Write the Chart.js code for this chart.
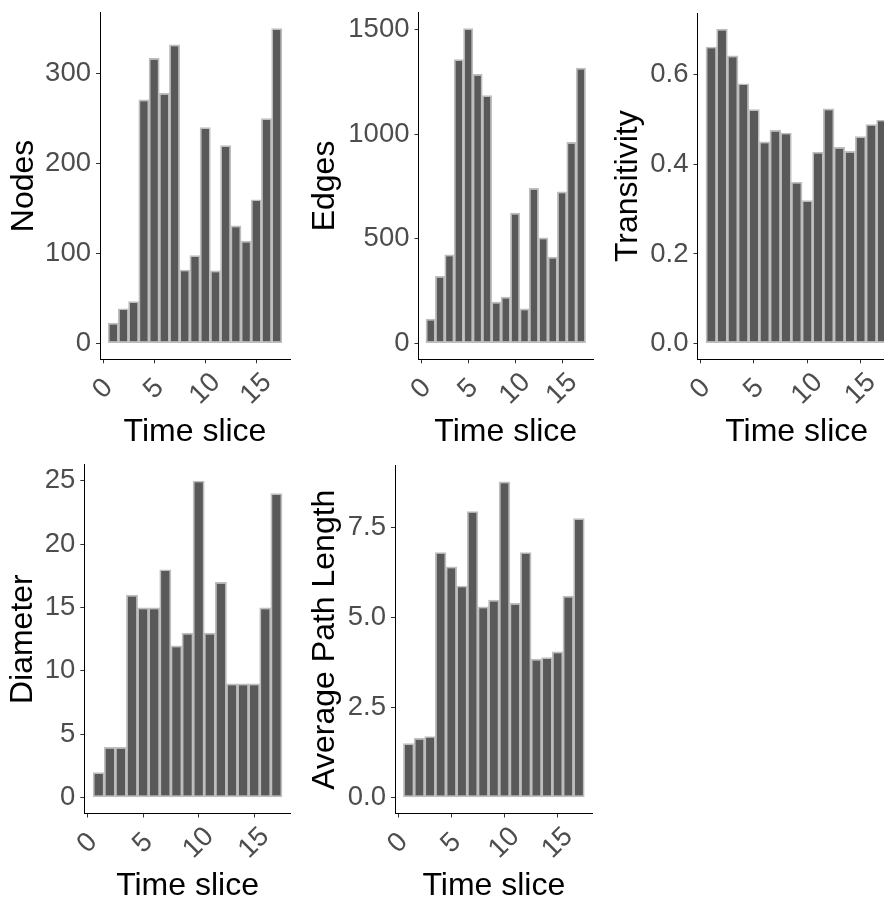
<!DOCTYPE html>
<html>
<head>
<meta charset="utf-8">
<script src="https://cdn.jsdelivr.net/npm/chart.js@4.4.0/dist/chart.umd.min.js"></script>
<style>
  html, body { margin: 0; padding: 0; background: #fff; width: 884px; height: 898px; overflow: hidden; position: relative; }
  canvas { position: absolute; }
</style>
</head>
<body>
<canvas id="nodesChart"></canvas>
<canvas id="edgesChart"></canvas>
<canvas id="transChart"></canvas>
<canvas id="diamChart"></canvas>
<canvas id="aplChart"></canvas>
<script>
/* ── Data ── */
const slices = [1, 2, 3, 4, 5, 6, 7, 8, 9, 10, 11, 12, 13, 14, 15, 16, 17];

const nodes = [23, 39, 47, 271, 317, 278, 332, 82, 98, 240, 81, 220, 131, 114, 160, 250, 350];
const edges = [118, 322, 425, 1357, 1505, 1287, 1185, 199, 223, 624, 167, 743, 506, 414, 726, 962, 1317];
const transitivity = [0.663, 0.703, 0.643, 0.581, 0.523, 0.451, 0.477, 0.471, 0.361, 0.320, 0.428, 0.525, 0.439, 0.430, 0.463, 0.490, 0.500];
const diameter = [2, 4, 4, 16, 15, 15, 18, 12, 13, 25, 13, 17, 9, 9, 9, 15, 24];
const avgPath = [1.51, 1.66, 1.71, 6.82, 6.42, 5.89, 7.96, 5.31, 5.50, 8.78, 5.41, 6.82, 3.86, 3.90, 4.06, 5.61, 7.76];

const xTicks = [0, 5, 10, 15];
const xTickLabels = ["0", "5", "10", "15"];

const nodeTicks = [0, 100, 200, 300];
const nodeTickLabels = ["0", "100", "200", "300"];
const edgeTicks = [0, 500, 1000, 1500];
const edgeTickLabels = ["0", "500", "1000", "1500"];
const transTicks = [0, 0.2, 0.4, 0.6];
const transTickLabels = ["0.0", "0.2", "0.4", "0.6"];
const diamTicks = [0, 5, 10, 15, 20, 25];
const diamTickLabels = ["0", "5", "10", "15", "20", "25"];
const aplTicks = [0, 2.5, 5, 7.5];
const aplTickLabels = ["0.0", "2.5", "5.0", "7.5"];

/* ── Panel layout (canvas box + plot area, in page pixels) ── */
const panels = [
  { id: "nodesChart", title: "Nodes", values: nodes, ticks: nodeTicks, labels: nodeTickLabels,
    left: 0, top: 0, width: 300, height: 450, plotLeft: 100, plotRight: 290, plotTop: 12.5, plotBottom: 359.3, titlePad: 7.9 },
  { id: "edgesChart", title: "Edges", values: edges, ticks: edgeTicks, labels: edgeTickLabels,
    left: 300, top: 0, width: 300, height: 450, plotLeft: 418.5, plotRight: 593, plotTop: 12.6, plotBottom: 359.3, titlePad: 9 },
  { id: "transChart", title: "Transitivity", values: transitivity, ticks: transTicks, labels: transTickLabels,
    left: 600, top: 0, width: 300, height: 450, plotLeft: 697.5, plotRight: 895.8, plotTop: 13, plotBottom: 359.3, titlePad: 12.6 },
  { id: "diamChart", title: "Diameter", values: diameter, ticks: diamTicks, labels: diamTickLabels,
    left: 0, top: 450, width: 300, height: 454, plotLeft: 84.3, plotRight: 290.8, plotTop: 464.8, plotBottom: 813.5, titlePad: 7.6 },
  { id: "aplChart", title: "Average Path Length", values: avgPath, ticks: aplTicks, labels: aplTickLabels,
    left: 300, top: 450, width: 300, height: 454, plotLeft: 395, plotRight: 592.7, plotTop: 465.8, plotBottom: 813.5, titlePad: 9 }
];

const FONT = "'Liberation Sans', Arial, Helvetica, sans-serif";
const TICK_SIZE = 27.5;
const TITLE_SIZE = 32;
/* half a digit of trailing space so every rotated label centres on its tick */
const padLabel = s => (s.length === 1 ? s + " " : s);
const digitShift = 0.556 * TICK_SIZE * Math.SQRT1_2;

function makeChart(p) {
  const canvas = document.getElementById(p.id);
  canvas.width = p.width;
  canvas.height = p.height;
  canvas.style.left = p.left + "px";
  canvas.style.top = p.top + "px";

  const yMax = Math.max(...p.values) * 1.05;
  const yMin = -Math.max(...p.values) * 0.05;
  const yAxisWidth = p.plotLeft - p.left;
  const xAxisHeight = p.top + p.height - p.plotBottom;

  return new Chart(canvas, {
    type: "bar",
    data: {
      datasets: [{
        data: slices.map((s, i) => ({ x: s, y: p.values[i] })),
        backgroundColor: "#595959",
        borderColor: "#BEBEBE",
        borderWidth: 1.7,
        borderSkipped: false,
        barPercentage: 1.07,
        categoryPercentage: 1.0
      }]
    },
    options: {
      responsive: false,
      devicePixelRatio: 1,
      animation: false,
      layout: { padding: { left: 0, top: p.plotTop - p.top, right: p.left + p.width - p.plotRight, bottom: 0 } },
      plugins: { legend: { display: false }, tooltip: { enabled: false } },
      scales: {
        x: {
          type: "linear",
          offset: false,
          min: -0.295, max: 18.295,
          afterBuildTicks: s => { s.ticks = xTicks.map(v => ({ value: v })); },
          afterFit: s => { s.height = xAxisHeight; s.paddingLeft = 0; s.paddingRight = 0; },
          grid: { display: true, drawOnChartArea: false, drawTicks: true, tickLength: 4, tickColor: "#333333", tickWidth: 1, offset: false },
          border: { display: true, color: "#000000", width: 1 },
          ticks: {
            autoSkip: false, minRotation: 45, maxRotation: 45, padding: 3.2,
            labelOffset: digitShift,
            color: "#4D4D4D", font: { family: FONT, size: TICK_SIZE, lineHeight: 1.2 },
            callback: (v, i) => padLabel(xTickLabels[i])
          },
          title: { display: true, text: "Time slice", color: "#000000",
                   font: { family: FONT, size: TITLE_SIZE, lineHeight: 1 }, padding: { top: 0, bottom: 1.8 } }
        },
        y: {
          min: yMin, max: yMax,
          afterBuildTicks: s => { s.ticks = p.ticks.map(v => ({ value: v })); },
          afterFit: s => { s.width = yAxisWidth; s.paddingTop = 0; s.paddingBottom = 0; },
          grid: { display: true, drawOnChartArea: false, drawTicks: true, tickLength: 4, tickColor: "#333333", tickWidth: 1 },
          border: { display: true, color: "#000000", width: 1 },
          ticks: {
            padding: 5, color: "#4D4D4D", font: { family: FONT, size: TICK_SIZE },
            callback: (v, i) => p.labels[i]
          },
          title: { display: true, text: p.title, color: "#000000",
                   font: { family: FONT, size: TITLE_SIZE, lineHeight: 1 }, padding: { top: p.titlePad, bottom: 0 } }
        }
      }
    }
  });
}

panels.forEach(makeChart);
</script>
</body>
</html>
